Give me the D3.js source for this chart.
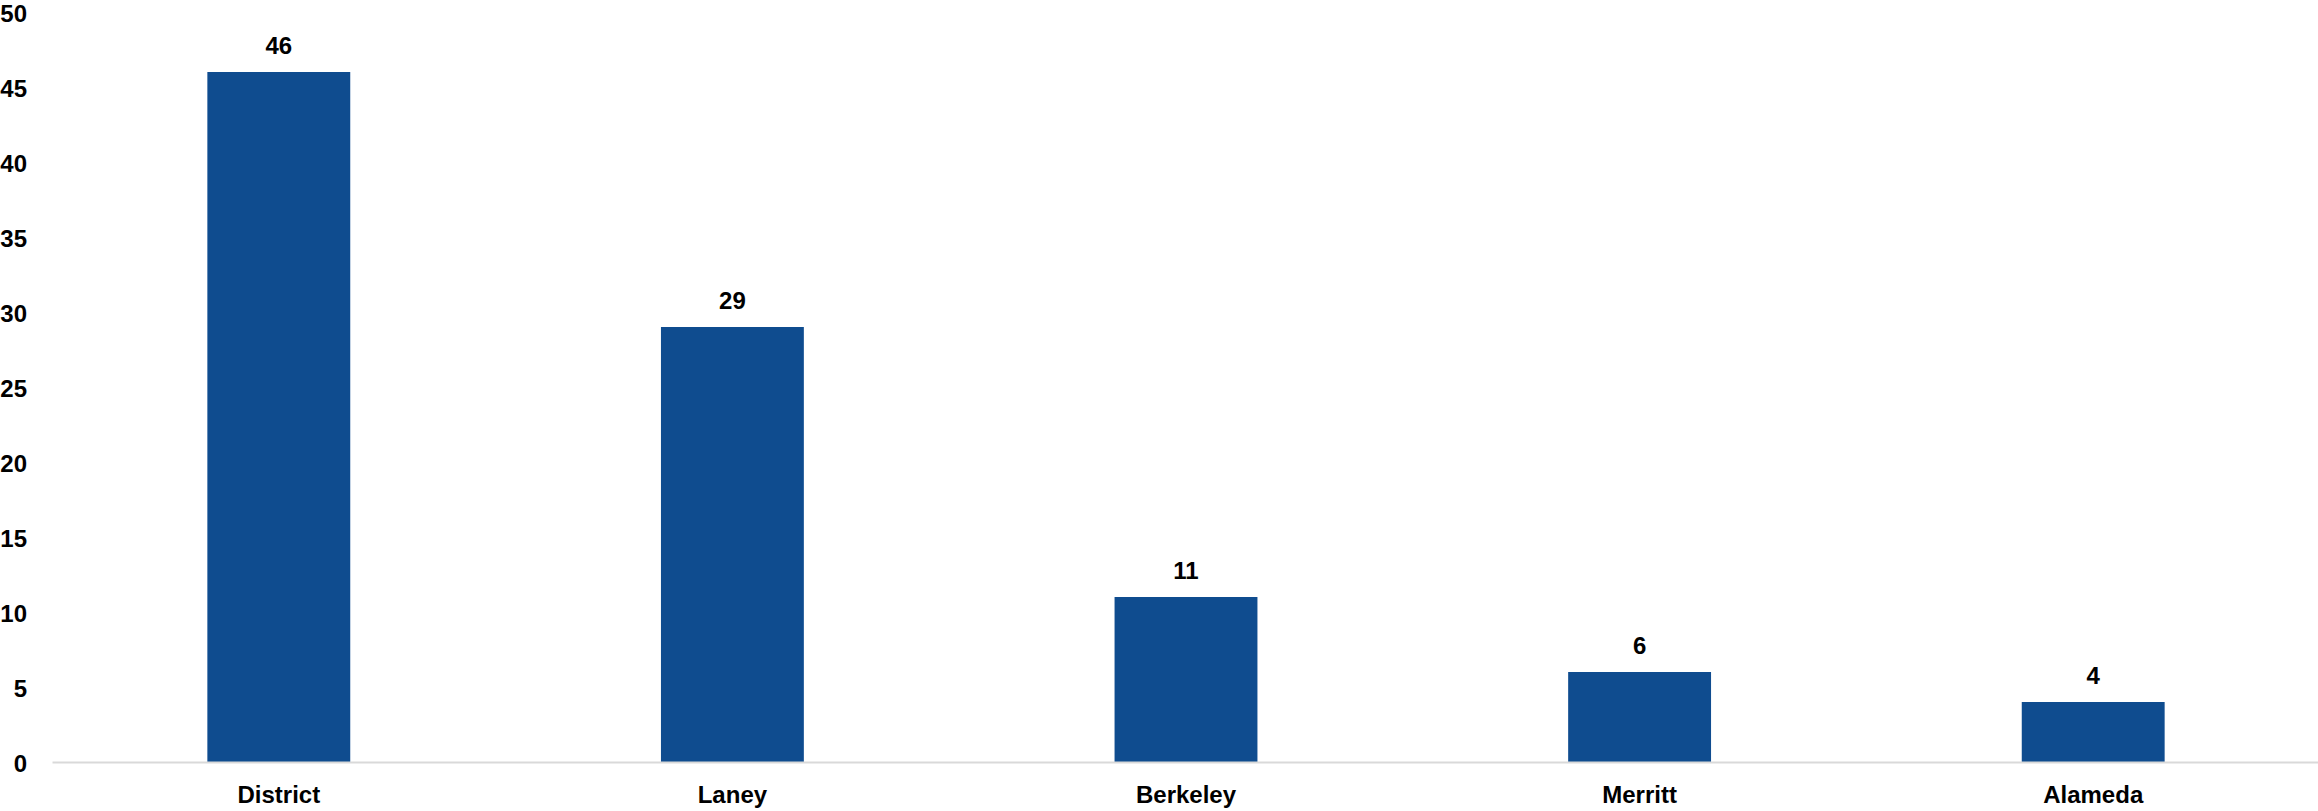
<!DOCTYPE html>
<html>
<head>
<meta charset="utf-8">
<script src="https://cdn.jsdelivr.net/npm/d3@7"></script>
<style>
  html, body { margin: 0; padding: 0; background: #fff; }
  svg { display: block; font-family: "Liberation Sans", Arial, sans-serif; }
</style>
</head>
<body>
<svg id="chart"></svg>
<script>
const categories = ["District", "Laney", "Berkeley", "Merritt", "Alameda"];
const counts = [46, 29, 11, 6, 4];
const yTicks = [0, 5, 10, 15, 20, 25, 30, 35, 40, 45, 50];

const width = 2318;
const height = 811;
const margin = { top: 12, right: 0, bottom: 49, left: 52 };

const svg = d3.select("#chart")
  .attr("width", width)
  .attr("height", height);

// Scales
const x = d3.scaleBand()
  .domain(categories)
  .range([margin.left, margin.left + 2268])
  .paddingInner(0.685)
  .paddingOuter(0.3425);

const y = d3.scaleLinear()
  .domain([0, 50])
  .range([height - margin.bottom, margin.top]);

// Y axis labels only (no line, no ticks)
const yAxis = svg.append("g")
  .attr("transform", `translate(${margin.left - 25},2)`)
  .call(d3.axisLeft(y).tickValues(yTicks).tickSize(0).tickPadding(0));
yAxis.select(".domain").remove();
yAxis.selectAll("text")
  .attr("font-size", 24)
  .attr("font-weight", "bold")
  .attr("fill", "#000")
  .attr("font-family", "Liberation Sans, Arial, sans-serif");

// Bars
svg.selectAll("rect.bar")
  .data(categories)
  .enter()
  .append("rect")
  .attr("class", "bar")
  .attr("x", d => x(d))
  .attr("y", (d, i) => y(counts[i]))
  .attr("width", x.bandwidth())
  .attr("height", (d, i) => y(0) - y(counts[i]))
  .attr("fill", "#0f4c8f");

// Value labels
svg.selectAll("text.value")
  .data(categories)
  .enter()
  .append("text")
  .attr("class", "value")
  .attr("x", d => x(d) + x.bandwidth() / 2)
  .attr("y", (d, i) => y(counts[i]) - 18)
  .attr("text-anchor", "middle")
  .attr("font-size", 24)
  .attr("font-weight", "bold")
  .attr("fill", "#000")
  .text((d, i) => counts[i]);

// X axis
const xAxis = svg.append("g")
  .attr("transform", `translate(0,${y(0)})`)
  .call(d3.axisBottom(x).tickSize(0).tickPadding(24));
xAxis.select(".domain")
  .attr("stroke", "#d9d9d9")
  .attr("stroke-width", 2);
xAxis.selectAll("text")
  .attr("font-size", 24)
  .attr("font-weight", "bold")
  .attr("fill", "#000")
  .attr("font-family", "Liberation Sans, Arial, sans-serif");
</script>
</body>
</html>
